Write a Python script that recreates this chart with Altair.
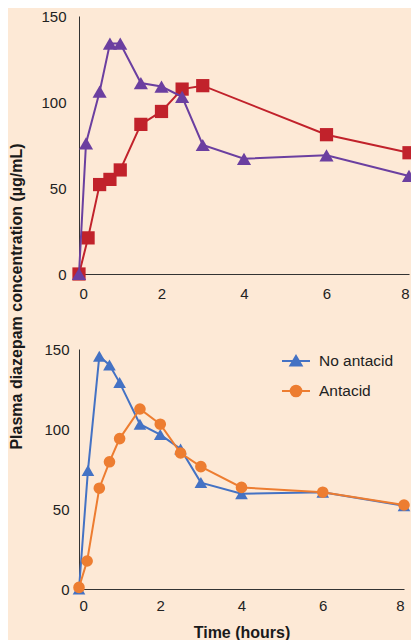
import altair as alt
import pandas as pd

# ---- data ----
top_tri_time = [0, 0.17, 0.5, 0.75, 1, 1.5, 2, 2.5, 3, 4, 6, 8]
top_tri_conc = [0, 76, 106, 134, 134, 111, 109, 103, 75, 67, 69, 57]
top_sq_time = [0, 0.22, 0.5, 0.75, 1, 1.5, 2, 2.5, 3, 6, 8]
top_sq_conc = [0, 21, 52, 55, 60.5, 87, 94.5, 107.5, 109.5, 81, 70.5]

bot_no_time = [0, 0.22, 0.5, 0.75, 1, 1.5, 2, 2.5, 3, 4, 6, 8]
bot_no_conc = [0, 74, 145.5, 140, 129, 103, 96.5, 87.5, 66.5, 59.5, 60.5, 52]
bot_ant_time = [0, 0.2, 0.5, 0.75, 1, 1.5, 2, 2.5, 3, 4, 6, 8]
bot_ant_conc = [1, 17.5, 63, 79.5, 94, 112.5, 103, 85, 76.5, 63.5, 60.5, 52.5]

x_ticks = [0, 2, 4, 6, 8]
y_ticks = [0, 50, 100, 150]
legend_names = ["No antacid", "Antacid"]

BG = "#FDE9D6"
FONT = "Liberation Sans"
AXC = "#333333"
PURPLE = "#6B3FA0"
RED = "#C1222B"
BLUE = "#4472C4"
ORANGE = "#ED7D31"


def xaxis(pad):
    return alt.Axis(values=x_ticks, ticks=False, tickSize=0, grid=False, domainColor=AXC,
                    labelColor="#222222", labelFontSize=15, labelPadding=pad, labelFont=FONT,
                    title=None)


def series(df, color, shape, size, xa=alt.Undefined, ya=alt.Undefined):
    xenc = alt.X("t:Q", scale=alt.Scale(domain=[0, 8], nice=False), axis=xa)
    yenc = alt.Y("v:Q", scale=alt.Scale(domain=[0, 150], nice=False), axis=ya)
    base = alt.Chart(df).encode(x=xenc, y=yenc)
    line = base.mark_line(color=color, strokeWidth=2)
    pts = base.mark_point(filled=True, color=color, shape=shape, size=size, opacity=1)
    return [line, pts]


# ---- top panel ----
df_sq = pd.DataFrame({"t": top_sq_time, "v": top_sq_conc})
df_tri = pd.DataFrame({"t": top_tri_time, "v": top_tri_conc})

top_yaxis = alt.Axis(values=y_ticks, ticks=False, tickSize=0, grid=False, domainColor=AXC,
                     labelColor="#222222", labelFontSize=15, labelPadding=13, labelFont=FONT,
                     title="Plasma diazepam concentration (µg/mL)", titleFont=FONT,
                     titleFontSize=16, titleFontWeight="bold", titleColor="#1a1a1a",
                     titleAngle=270, titleAlign="center", titleBaseline="middle",
                     titleX=-63, titleY=280)

top_layers = series(df_sq, RED, "square", 175, xa=xaxis(12), ya=top_yaxis) + \
    series(df_tri, PURPLE, "triangle-up", 200)
top = alt.layer(*top_layers).properties(width=330, height=258)

# ---- bottom panel ----
df_no = pd.DataFrame({"t": bot_no_time, "v": bot_no_conc})
df_ant = pd.DataFrame({"t": bot_ant_time, "v": bot_ant_conc})

bot_xaxis = alt.Axis(values=x_ticks, ticks=False, tickSize=0, grid=False, domainColor=AXC,
                     labelColor="#222222", labelFontSize=15, labelPadding=9, labelFont=FONT,
                     title="Time (hours)", titleFont=FONT, titleFontSize=16,
                     titleFontWeight="bold", titleColor="#1a1a1a", titlePadding=11)
bot_yaxis = alt.Axis(values=y_ticks, ticks=False, tickSize=0, grid=False, domainColor=AXC,
                     labelColor="#222222", labelFontSize=15, labelPadding=10, labelFont=FONT,
                     title=None)

bot_layers = series(df_no, BLUE, "triangle-up", 160, xa=bot_xaxis, ya=bot_yaxis) + \
    series(df_ant, ORANGE, "circle", 135)

# legend layer (no marks drawn, only the legend from the scales)
leg_df = pd.DataFrame({"t": bot_no_time[:2], "v": bot_no_conc[:2], "s": legend_names})
leg_paths = ["M-1,0H1M0,-0.36L0.4,0.32L-0.4,0.32Z",
             "M-1,0H1M0.38,0A0.38,0.38,0,1,1,-0.38,0A0.38,0.38,0,1,1,0.38,0Z"]
leg = alt.Legend(title=None, orient="none", legendX=202, legendY=-3, padding=0,
                 symbolSize=784, symbolStrokeWidth=2, labelFontSize=15.5, labelFont=FONT,
                 labelColor="#222222", labelOffset=8, rowPadding=6, symbolOpacity=1)
legend_layer = alt.Chart(leg_df).transform_filter("datum.v < -1000").mark_point(
    filled=True, strokeWidth=2).encode(
    x="t:Q", y="v:Q",
    color=alt.Color("s:N", scale=alt.Scale(domain=legend_names, range=[BLUE, ORANGE]), legend=leg),
    stroke=alt.Stroke("s:N", scale=alt.Scale(domain=legend_names, range=[BLUE, ORANGE]), legend=leg),
    shape=alt.Shape("s:N", scale=alt.Scale(domain=legend_names, range=leg_paths), legend=leg),
)

bottom = alt.layer(*bot_layers, legend_layer).properties(width=325, height=240)

chart = alt.vconcat(top, bottom, spacing=75, bounds="flush").resolve_legend(
    color="independent", stroke="independent", shape="independent"
).resolve_scale(
    color="independent", stroke="independent", shape="independent"
).properties(
    background=BG,
    padding={"left": 0, "top": 1, "right": -6, "bottom": 0},
).configure_view(stroke=None).configure_axis(domainWidth=1)

chart.save("out.html", embed_options={"renderer": "svg", "actions": False})
